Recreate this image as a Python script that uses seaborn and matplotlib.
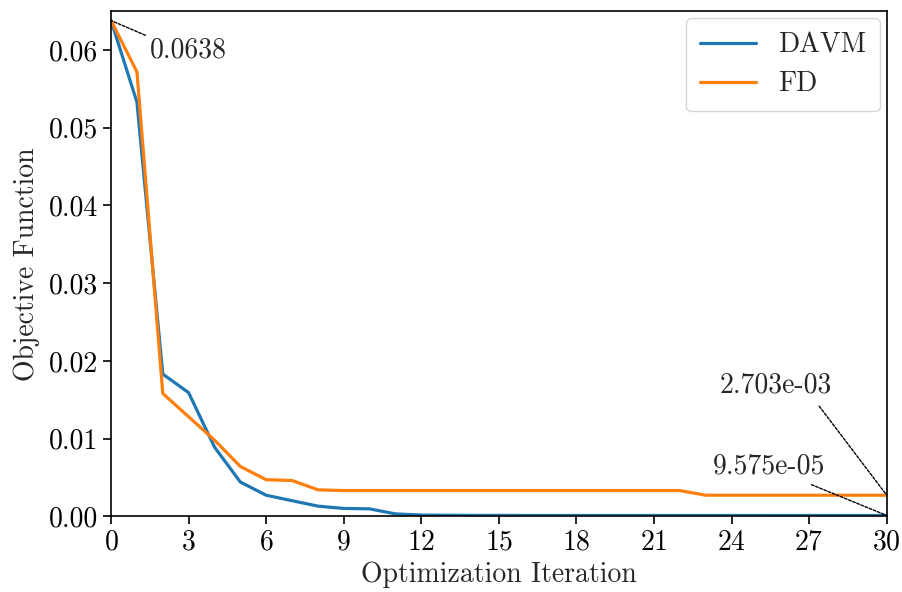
import numpy as np
import pandas as pd
import seaborn as sns
import matplotlib
matplotlib.use("Agg")
import matplotlib.pyplot as plt

iterations = list(range(31))
davm = [0.0638, 0.0533, 0.0183, 0.0159, 0.0089, 0.0044, 0.0027, 0.0020, 0.0013, 0.0010,
        0.00095, 0.0003, 0.00015, 0.00012, 0.00011, 0.00011, 0.00010, 0.00010, 0.00010, 0.00010,
        0.00010, 0.00010, 0.00010, 0.00010, 0.00010, 0.00010, 0.000096, 0.000096, 0.000096, 0.000096,
        0.00009575]
fd = [0.0638, 0.0572, 0.0158, 0.0128, 0.0098, 0.0064, 0.0047, 0.0046, 0.0034, 0.0033,
      0.0033, 0.0033, 0.0033, 0.0033, 0.0033, 0.0033, 0.0033, 0.0033, 0.0033, 0.0033,
      0.0033, 0.0033, 0.0033, 0.002703, 0.002703, 0.002703, 0.002703, 0.002703, 0.002703, 0.002703,
      0.002703]
series_names = ["DAVM", "FD"]
x_ticks = list(range(0, 31, 3))
y_ticks = [0.00, 0.01, 0.02, 0.03, 0.04, 0.05, 0.06]

df = pd.DataFrame({
    "iter": iterations * 2,
    "val": davm + fd,
    "method": [series_names[0]] * len(davm) + [series_names[1]] * len(fd),
})

sns.set_theme(style="ticks")
plt.rcParams["font.family"] = ["cmr10", "DejaVu Sans"]
plt.rcParams["mathtext.fontset"] = "cm"
plt.rcParams["axes.formatter.use_mathtext"] = True
plt.rcParams["axes.unicode_minus"] = False

FS = 20
fig = plt.figure(figsize=(9.03, 5.92), dpi=100)
ax = fig.add_axes([0.123, 0.128, 0.859, 0.853])
sns.lineplot(data=df, x="iter", y="val", hue="method",
             palette=["#1f77b4", "#ff7f0e"], linewidth=2.3, ax=ax)

ax.set_xlim(0, 30)
ax.set_ylim(0, 0.065)
ax.set_xticks(x_ticks)
ax.set_yticks(y_ticks)
ax.set_yticklabels([f"{v:.2f}" for v in y_ticks])
ax.tick_params(axis="both", labelsize=FS, length=6, width=1.2, colors="black")
for s in ax.spines.values():
    s.set_linewidth(1.2)
    s.set_color("black")
ax.set_xlabel("Optimization Iteration", fontsize=FS, labelpad=4)
ax.set_ylabel("Objective Function", fontsize=FS, labelpad=6)

leg = ax.legend(loc="upper right", fontsize=FS, frameon=True, fancybox=True,
                handlelength=2.0, borderpad=0.5, labelspacing=0.45, borderaxespad=0.25)
leg.get_frame().set_edgecolor("#cccccc")

def arrow(rx, ry, sh):
    return dict(arrowstyle="-", linestyle=(0, (2, 1.2)), color="black", lw=1.0,
                shrinkA=sh, shrinkB=0, relpos=(rx, ry))

ax.annotate("0.0638", xy=(0, davm[0]), xytext=(28, -12), textcoords="offset points",
            fontsize=FS, arrowprops=arrow(0, 1, 1), ha="left", va="top")
ax.annotate(f"{fd[-1]:.3e}", xy=(30, fd[-1]), xytext=(-120, 74), textcoords="offset points",
            fontsize=FS, arrowprops=arrow(0.83, 0, 4), ha="left", va="baseline")
ax.annotate(f"{davm[-1]:.3e}", xy=(30, davm[-1]), xytext=(-125, 30), textcoords="offset points",
            fontsize=FS, arrowprops=arrow(0.77, 0, 3), ha="left", va="baseline")

fig.savefig("out.png", dpi=100)
